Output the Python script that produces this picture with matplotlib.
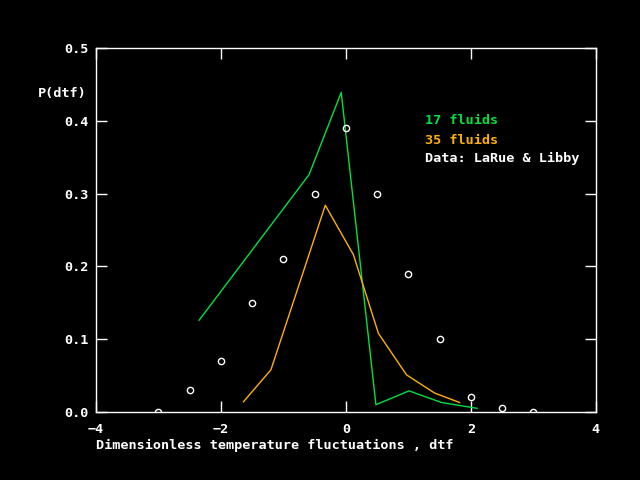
import matplotlib
matplotlib.use("Agg")
import matplotlib.pyplot as plt

# data
x17 = [-2.35, -0.59, -0.075, 0.48, 1.01, 1.53, 2.1]
y17 = [0.126, 0.326, 0.439, 0.010, 0.029, 0.013, 0.005]

x35 = [-1.64, -1.2, -0.33, 0.12, 0.52, 0.97, 1.42, 1.82]
y35 = [0.014, 0.058, 0.284, 0.216, 0.108, 0.051, 0.026, 0.013]

xdat = [-3, -2.5, -2, -1.5, -1, -0.5, 0, 0.5, 1, 1.5, 2, 2.5, 3]
ydat = [0.0, 0.03, 0.07, 0.15, 0.21, 0.30, 0.39, 0.30, 0.19, 0.10, 0.02, 0.005, 0.0]

font = {"family": "DejaVu Sans Mono", "weight": "bold", "size": 9.7}
green = "#00e040"
orange = "#ffb000"

fig = plt.figure(figsize=(6.4, 4.8), dpi=100, facecolor="black")
ax = fig.add_axes([0.15, 0.1417, 0.781, 0.7583], facecolor="black")

ax.plot(x17, y17, color=green, lw=1)
ax.plot(x35, y35, color=orange, lw=1)
ax.plot(xdat, ydat, "o", mfc="none", mec="white", ms=4.5, mew=1)

ax.set_xlim(-4, 4)
ax.set_ylim(0, 0.5)
ax.set_xticks([-4, -2, 0, 2, 4])
ax.set_yticks([0.0, 0.1, 0.2, 0.3, 0.4, 0.5])
ax.set_yticklabels(["0.0", "0.1", "0.2", "0.3", "0.4", "0.5"], fontdict=font)
ax.set_xticklabels(["\u22124", "\u22122", "0", "2", "4"], fontdict=font)
ax.tick_params(colors="white", direction="in", length=8, width=1,
               top=True, right=True, labeltop=False, labelright=False)
ax.tick_params(axis="y", pad=5)
ax.tick_params(axis="x", pad=8)
for s in ax.spines.values():
    s.set_color("white")
    s.set_linewidth(1)

ax.set_xlabel("Dimensionless temperature fluctuations , dtf", color="white",
              fontdict=font, loc="left", labelpad=2)
fig.text(38 / 640, 1 - 93 / 480, "P(dtf)", color="white", fontdict=font, va="center")

# legend texts
fig.text(425 / 640, 1 - 120 / 480, "17 fluids", color=green, fontdict=font, va="center")
fig.text(425 / 640, 1 - 140 / 480, "35 fluids", color=orange, fontdict=font, va="center")
fig.text(425 / 640, 1 - 158 / 480, "Data: LaRue & Libby", color="white", fontdict=font, va="center")

fig.savefig("out.png", facecolor="black")
